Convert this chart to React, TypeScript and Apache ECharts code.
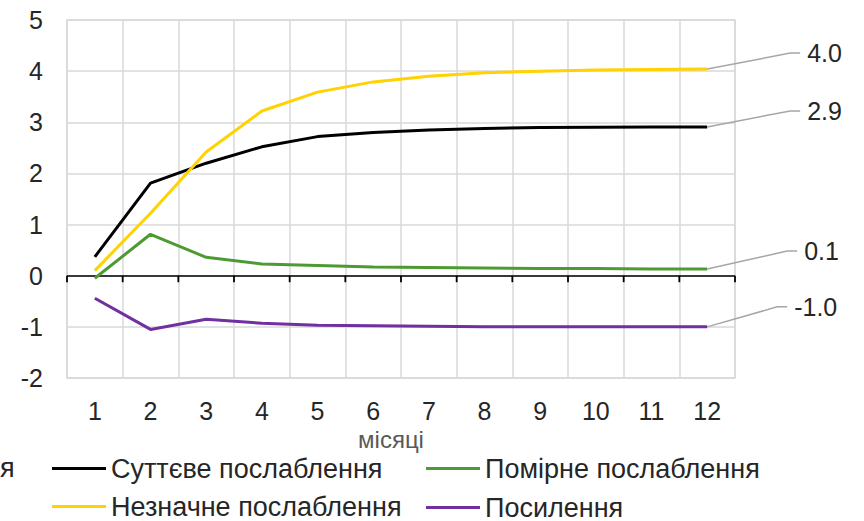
import React, { useEffect, useRef } from "react";
import * as echarts from "echarts";

const months = ["1", "2", "3", "4", "5", "6", "7", "8", "9", "10", "11", "12"];
const seriesNames = [
  "Суттєве послаблення",
  "Помірне послаблення",
  "Незначне послаблення",
  "Посилення",
];
const significantWeakening = [0.37, 1.81, 2.2, 2.52, 2.72, 2.8, 2.85, 2.88, 2.9, 2.905, 2.91, 2.91];
const moderateWeakening = [-0.05, 0.81, 0.36, 0.23, 0.2, 0.17, 0.16, 0.15, 0.14, 0.14, 0.13, 0.13];
const slightWeakening = [0.1, 1.22, 2.42, 3.22, 3.59, 3.79, 3.9, 3.97, 4.0, 4.02, 4.03, 4.04];
const strengthening = [-0.44, -1.05, -0.85, -0.93, -0.97, -0.98, -0.99, -1.0, -1.0, -1.0, -1.0, -1.0];
const yMin = -2;
const yMax = 5;
const yInterval = 1;
const xAxisName = "місяці";

const seriesData = [significantWeakening, moderateWeakening, slightWeakening, strengthening];
const colors = ["#000000", "#4e9a32", "#ffd200", "#7030a0"];
const GRID = "#d9d9d9";

// leader line layout (pixels) for the end labels
const leaderLayout = [
  { dx: 83, dy: -16 },
  { dx: 80, dy: -18 },
  { dx: 83, dy: -16 },
  { dx: 70, dy: -20 },
];
const legendLayout = [
  { left: 52, top: 455 },
  { left: 426, top: 455 },
  { left: 52, top: 493 },
  { left: 426, top: 494 },
];

const FONT = "'Liberation Sans', Arial, sans-serif";
const TEXT = "#262626";

export default function App() {
  const ref = useRef<HTMLDivElement>(null);
  useEffect(() => {
    document.body.style.margin = "0";
    if (!ref.current) return;
    const chart = echarts.init(ref.current, undefined, { renderer: "svg" });

    const option: any = {
      animation: false,
      textStyle: { fontFamily: FONT },
      grid: {
        left: 67,
        right: 129,
        top: 20,
        bottom: 143,
        show: true,
        borderColor: GRID,
        borderWidth: 1.5,
      },
      legend: seriesNames.map((n, i) => ({
        data: [n],
        left: legendLayout[i].left,
        top: legendLayout[i].top,
        padding: 0,
        icon: "rect",
        itemWidth: 54,
        itemHeight: 3,
        selectedMode: false,
        textStyle: { fontSize: 27, color: TEXT, fontFamily: FONT },
      })),
      xAxis: {
        type: "category",
        data: months,
        position: "bottom",
        boundaryGap: true,
        axisLine: { show: false, onZero: false },
        axisTick: { show: false },
        splitLine: { show: true, lineStyle: { color: GRID, width: 1.5 } },
        axisLabel: { fontSize: 25, color: TEXT, margin: 20, fontFamily: FONT },
        name: xAxisName,
        nameLocation: "middle",
        nameGap: 41,
        nameTextStyle: { fontSize: 24, color: "#595959", fontFamily: FONT, padding: [0, 20, 0, 0] },
      },
      yAxis: {
        type: "value",
        min: yMin,
        max: yMax,
        interval: yInterval,
        axisLine: { show: false },
        axisTick: { show: false },
        axisLabel: { fontSize: 25, color: TEXT, margin: 24, fontFamily: FONT },
        splitLine: { show: true, lineStyle: { color: GRID, width: 1.5 } },
      },
      series: seriesNames.map((n, i) => ({
        name: n,
        type: "line",
        data: seriesData[i],
        symbol: "none",
        lineStyle: { color: colors[i], width: 3 },
        itemStyle: { color: colors[i] },
        z: 5,
        markLine:
          i === 0
            ? {
                silent: true,
                symbol: "none",
                label: { show: false },
                lineStyle: { color: "#000000", width: 1.5, type: "solid" },
                data: [{ yAxis: 0 }],
              }
            : undefined,
      })),
    };
    chart.setOption(option);

    const graphics: any[] = [
      {
        type: "text",
        left: 0,
        top: 454,
        style: { text: "я", fontSize: 27, fill: TEXT, fontFamily: FONT },
      },
    ];

    // boundary ticks below the zero line, positioned through the chart's scales
    const p0 = chart.convertToPixel({ seriesIndex: 0 }, [0, 0]) as number[];
    const p1 = chart.convertToPixel({ seriesIndex: 0 }, [1, 0]) as number[];
    if (p0 && p1) {
      const y0 = p0[1];
      const step = p1[0] - p0[0];
      const xStart = p0[0] - step / 2;
      for (let k = 0; k <= months.length; k++) {
        const x = xStart + k * step;
        graphics.push({
          type: "polyline",
          shape: { points: [[x, y0], [x, y0 + 6.5]] },
          style: { stroke: "#000000", lineWidth: 1.8, fill: "none" },
          z: 10,
        });
      }
    }

    seriesData.forEach((d, i) => {
      const last = d.length - 1;
      const p = chart.convertToPixel({ seriesIndex: i }, [last, d[last]]) as number[];
      if (!p) return;
      const kx = p[0] + leaderLayout[i].dx;
      const ky = p[1] + leaderLayout[i].dy;
      graphics.push({
        type: "polyline",
        shape: { points: [[p[0], p[1]], [kx, ky], [kx + 10, ky]] },
        style: { stroke: "#a6a6a6", lineWidth: 1.5, fill: "none" },
        z: 10,
      });
      graphics.push({
        type: "text",
        x: kx + 17,
        y: ky,
        style: {
          text: d[last].toFixed(1),
          fontSize: 25,
          fill: TEXT,
          fontFamily: FONT,
          verticalAlign: "middle",
          align: "left",
        },
        z: 10,
      });
    });
    chart.setOption({ graphic: graphics });

    return () => chart.dispose();
  }, []);
  return <div ref={ref} style={{ width: 864, height: 521 }} />;
}
